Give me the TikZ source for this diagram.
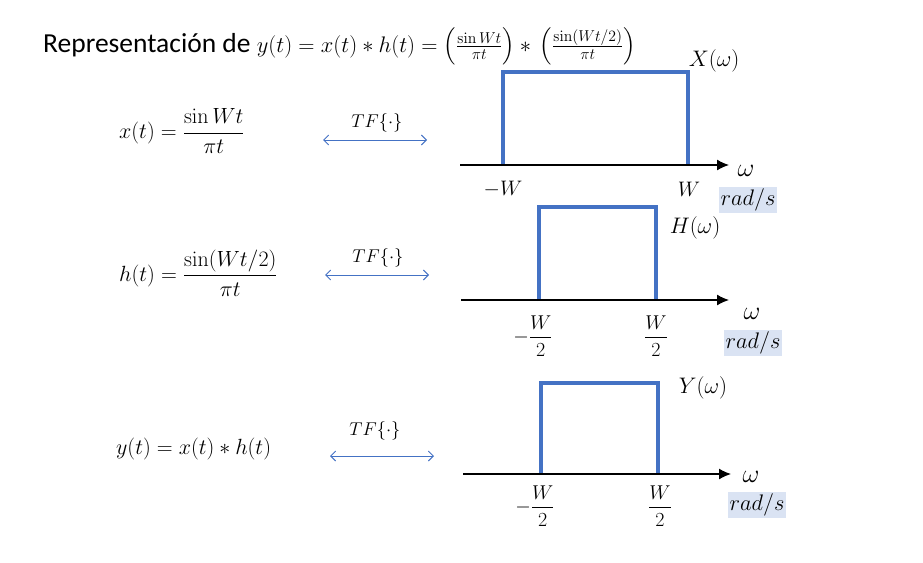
\RequirePackage{fix-cm}
\documentclass[tikz,border=0pt]{standalone}
\usepackage{amsmath}
\usepackage[no-math]{fontspec}
\setmainfont{Carlito}
\usetikzlibrary{arrows.meta}
\definecolor{pblue}{HTML}{4472C4}
\definecolor{unitbg}{HTML}{DAE3F3}
\begin{document}
\begin{tikzpicture}[x=1pt,y=-1pt,
  rectline/.style={pblue,line width=4.5pt},
  axisline/.style={black,line width=1.3pt,-{Latex[length=12pt,width=11pt]}},
  tfarrow/.style={pblue,line width=0.9pt,{Straight Barb[length=5pt,width=10pt]}-{Straight Barb[length=5pt,width=10pt]}},
  lbl/.style={inner sep=0pt,font=\fontsize{22.5}{25}\selectfont},
  omlbl/.style={inner sep=0pt,font=\fontsize{26}{29}\selectfont},
  tick/.style={inner sep=0pt,font=\fontsize{21}{24}\selectfont},
  fractick/.style={inner sep=0pt,font=\fontsize{20}{23}\selectfont},
  unit/.style={fill=unitbg,inner sep=2pt,font=\fontsize{22.5}{25}\selectfont},
  tflbl/.style={inner sep=0pt,font=\fontsize{18.5}{21}\selectfont},
  formula/.style={inner sep=0pt,anchor=west,font=\fontsize{22}{25}\selectfont},
  titlelbl/.style={inner sep=0pt,anchor=base west,font=\fontsize{27.5}{30}\selectfont}
]
\useasboundingbox (0,0) rectangle (923,562);

% title
\node[titlelbl] (title) at (43,52) {Representación de {\fontsize{22.5}{25}\selectfont$y(t)=x(t)*h(t)=\left(\frac{\sin Wt}{\pi t}\right)*\,\left(\frac{\sin(Wt/2)}{\pi t}\right)$}};

% left formulas
\node[formula] (fx) at (119,131) {$x(t)=\dfrac{\sin Wt}{\pi t}$};
\node[formula] (fh) at (119,273) {$h(t)=\dfrac{\sin(Wt/2)}{\pi t}$};
\node[formula] (fy) at (116,449) {$y(t)=x(t)*h(t)$};

% TF arrows
\coordinate (a1l) at (323,140); \coordinate (a1r) at (427,140);
\coordinate (a2l) at (325,275); \coordinate (a2r) at (429,275);
\coordinate (a3l) at (330,456); \coordinate (a3r) at (434,456);
\draw[tfarrow] (a1l) -- (a1r);
\draw[tfarrow] (a2l) -- (a2r);
\draw[tfarrow] (a3l) -- (a3r);
\node[tflbl] (tf1) at (377,123) {$TF\{\cdot\}$};
\node[tflbl] (tf2) at (378,258) {$TF\{\cdot\}$};
\node[tflbl] (tf3) at (375,431) {$TF\{\cdot\}$};

% graph 1
\coordinate (ax1s) at (460,165); \coordinate (ax1e) at (729,165);
\coordinate (r1a) at (503,166); \coordinate (r1b) at (503,72);
\coordinate (r1c) at (688,72); \coordinate (r1d) at (688,166);
\draw[rectline] (r1a) -- (r1b) -- (r1c) -- (r1d);
\draw[axisline] (ax1s) -- (ax1e);
\node[lbl] (X) at (714,61) {$X(\omega)$};
\node[omlbl] (om1) at (746,171) {$\omega$};
\node[tick] (mW) at (503,189) {$-W$};
\node[tick] (pW) at (689,189) {$W$};
\node[unit] (u1) at (748,200) {$rad/s$};

% graph 2
\coordinate (ax2s) at (461,300); \coordinate (ax2e) at (729,300);
\coordinate (r2a) at (539,301); \coordinate (r2b) at (539,207);
\coordinate (r2c) at (656,207); \coordinate (r2d) at (656,301);
\draw[rectline] (r2a) -- (r2b) -- (r2c) -- (r2d);
\draw[axisline] (ax2s) -- (ax2e);
\node[lbl] (H) at (695,228) {$H(\omega)$};
\node[omlbl] (om2) at (752,314) {$\omega$};
\node[fractick] (mW2) at (533,336) {$-\dfrac{W}{2}$};
\node[fractick] (pW2) at (656,336) {$\dfrac{W}{2}$};
\node[unit] (u2) at (753,343) {$rad/s$};

% graph 3
\coordinate (ax3s) at (463,474); \coordinate (ax3e) at (731,474);
\coordinate (r3a) at (541,475); \coordinate (r3b) at (541,383);
\coordinate (r3c) at (658,383); \coordinate (r3d) at (658,475);
\draw[rectline] (r3a) -- (r3b) -- (r3c) -- (r3d);
\draw[axisline] (ax3s) -- (ax3e);
\node[lbl] (Y) at (703,388) {$Y(\omega)$};
\node[omlbl] (om3) at (751,477) {$\omega$};
\node[fractick] (mW3) at (535,506) {$-\dfrac{W}{2}$};
\node[fractick] (pW3) at (660,506) {$\dfrac{W}{2}$};
\node[unit] (u3) at (757,505) {$rad/s$};
\end{tikzpicture}
\end{document}
